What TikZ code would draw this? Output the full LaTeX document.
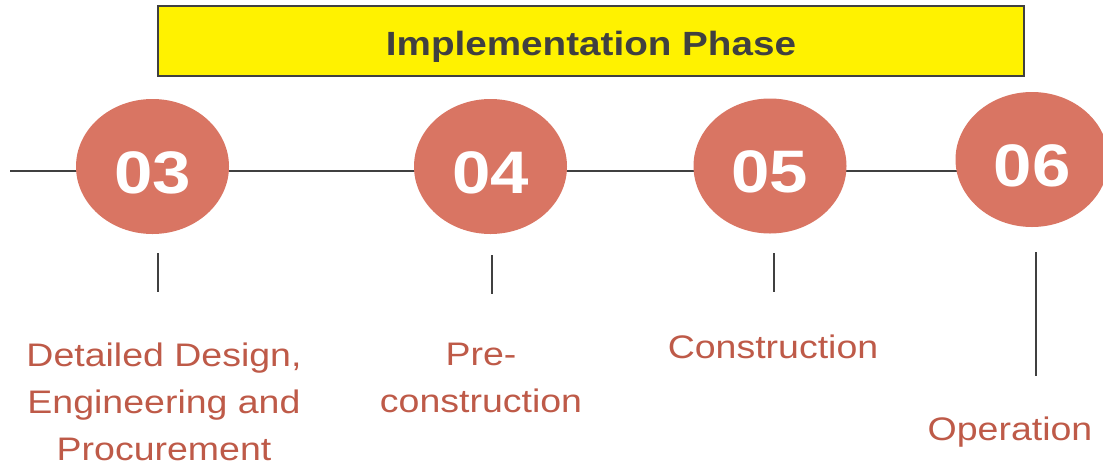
\documentclass[tikz,border=0pt]{standalone}
\usepackage{fontspec}
\setmainfont{Liberation Sans}[FakeStretch=1.15]
\usetikzlibrary{shapes.geometric}

\definecolor{salmon}{HTML}{D97563}
\definecolor{brick}{HTML}{BE5A48}
\definecolor{ink}{HTML}{404040}

\begin{document}
\begin{tikzpicture}[x=0.5pt,y=-0.5pt,
  phase/.style={draw=ink,fill=yellow,line width=1pt,minimum width=433pt,minimum height=35pt,
    inner sep=0pt,text=ink,font=\fontsize{16.8}{20}\selectfont\bfseries,
    text height=14.5pt,text depth=0pt},
  stage/.style={ellipse,fill=salmon,text=white,minimum width=76.5pt,minimum height=67.5pt,
    inner sep=0pt,font=\fontsize{30}{30}\selectfont\bfseries,text height=26.5pt,text depth=0pt},
  caption/.style={anchor=north,inner sep=0pt,align=center,text=brick,
    font=\fontsize{16.3}{23.5}\selectfont},
  rule/.style={draw=ink,line width=1.25pt}]

\useasboundingbox (0,0) rectangle (1103,467);
\clip (0,0) rectangle (1103,467);

% time line behind the stages
\coordinate (start) at (10,171);
\coordinate (stop) at (1000,171);
\draw[rule] (start) -- (stop);

\node[phase] (title) at (591,41) {Implementation Phase};

\node[stage] (s03) at (152.5,166.5) {03};
\node[stage] (s04) at (490.5,166.5) {04};
\node[stage] (s05) at (770,166) {05};
\node[stage] (s06) at (1032,159.5) {06};

% ticks under the stages
\foreach \n/\x/\a/\b in {03/158/253/292,04/492/255/294,05/774/253/292,06/1036/252/376}
{
\coordinate (top\n) at (\x,\a);
\coordinate (foot\n) at (\x,\b);
\draw[rule] (top\n) -- (foot\n);
}

\node[caption] (l03) at (164,342) {Detailed Design,\\Engineering and\\Procurement};
\node[caption] (l04) at (481,343) {Pre-\\construction};
\node[caption] (l05) at (773,334) {Construction};
\node[caption] (l06) at (1010,416) {Operation};

\end{tikzpicture}
\end{document}
